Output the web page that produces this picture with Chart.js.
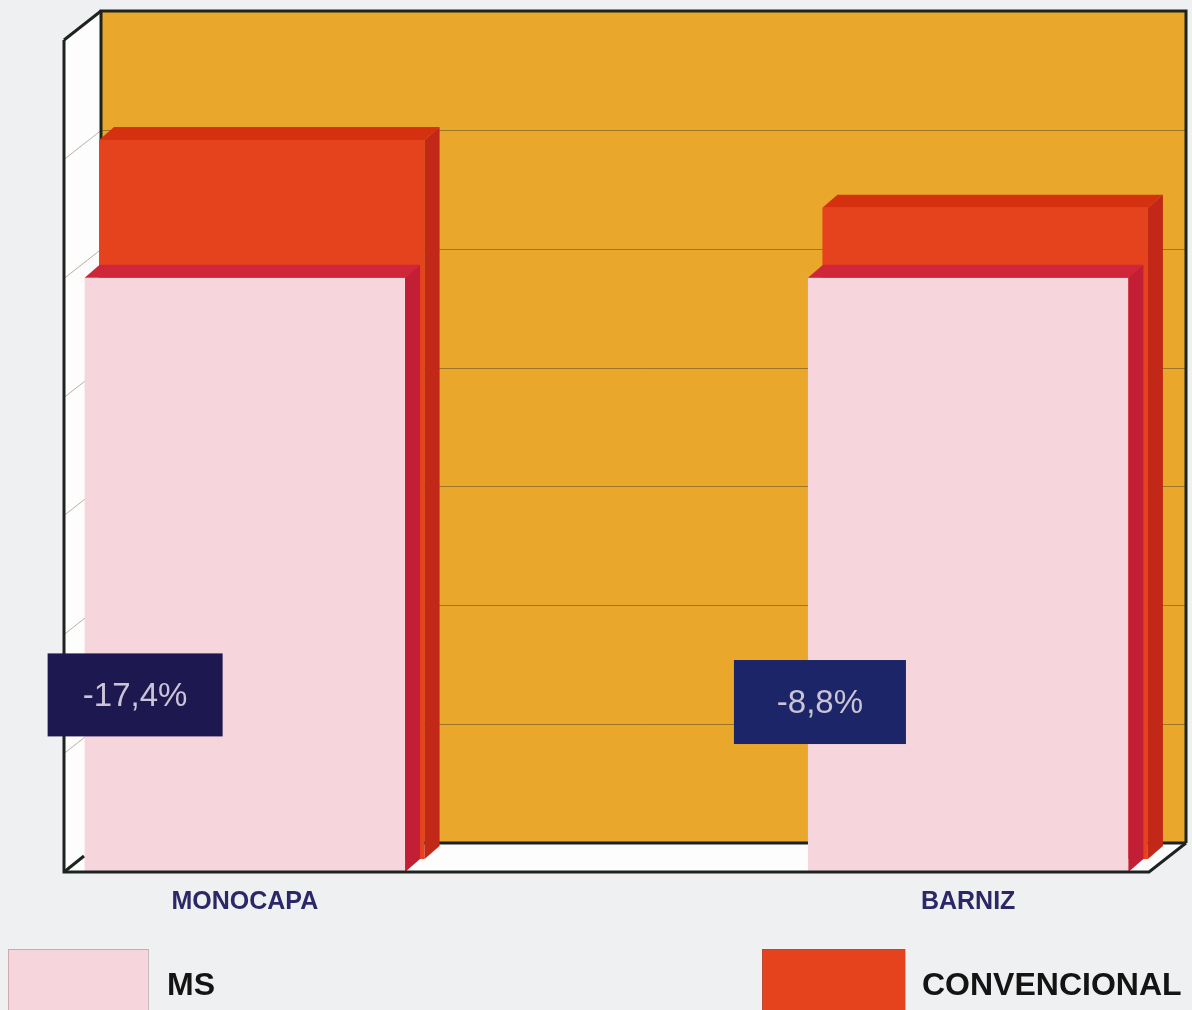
<!DOCTYPE html>
<html lang="es">
<head>
<meta charset="utf-8">
<title>MS vs Convencional</title>
<script src="https://cdn.jsdelivr.net/npm/chart.js@4.4.1/dist/chart.umd.min.js"></script>
<style>
  html, body { margin: 0; padding: 0; background: #eff0f1; }
  #wrap { position: relative; width: 1192px; height: 1010px; }
</style>
</head>
<body>
<div id="wrap"><canvas id="chart"></canvas></div>
<script>
// ─── DATOS ────────────────────────────────────────────────
const categories = ['MONOCAPA', 'BARNIZ']
const seriesNames = ['MS', 'CONVENCIONAL']
const msValues = [5.0, 5.0]
const convValues = [6.05, 5.48]
const diffLabels = ['-17,4%', '-8,8%']

// ─── ESTILO ───────────────────────────────────────────────
const COLORS = {
    ms: '#f6d5dd', msTop: '#d0263a', msSide: '#c21f36',
    conv: '#e5431d', convTop: '#d5300f', convSide: '#c22818',
    wall: '#e9a82b', side: '#fdfdfd', line: '#1d2420',
    grid: 'rgba(105,85,35,0.6)', sideGrid: '#bfae9e',
    boxes: ['#1e1850', '#1b2567'], boxText: '#cbc3d6',
    axisText: '#2c2868'
}
const DEPTH = { dx: 37, dy: -29 }        // profundidad de la caja
const BAR_DEPTH = { dx: 15, dy: -13 }    // profundidad de cada barra
const CONV_SHIFT = { dx: 17, dy: -13 }   // la serie convencional va detrás
const BOX_POS = [{ dx: -37, v: 1.49, w: 175, h: 83 }, { dx: -74, v: 1.43, w: 172, h: 84 }]

// la categoría vacía del medio separa los dos grupos
const labels = [categories[0], '', categories[1]]
const spread = arr => [arr[0], null, arr[1]]

// ─── HELPERS ──────────────────────────────────────────────
function poly(ctx, pts, fill) {
    ctx.beginPath()
    pts.forEach(([x, y], i) => i ? ctx.lineTo(x, y) : ctx.moveTo(x, y))
    ctx.closePath()
    ctx.fillStyle = fill
    ctx.fill()
}

function seg(ctx, pts, color, w) {
    ctx.beginPath()
    pts.forEach(([x, y], i) => i ? ctx.lineTo(x, y) : ctx.moveTo(x, y))
    ctx.strokeStyle = color
    ctx.lineWidth = w
    ctx.lineJoin = 'miter'
    ctx.stroke()
}

// ─── CAJA 3D ──────────────────────────────────────────────
const box3d = {
    id: 'box3d',
    beforeDatasetsDraw(chart) {
        const { ctx, chartArea: a, scales: { y } } = chart
        const { dx, dy } = DEPTH
        ctx.save()
        poly(ctx, [[a.left, a.top], [a.left + dx, a.top + dy], [a.left + dx, a.bottom + dy], [a.left, a.bottom]], COLORS.side)
        poly(ctx, [[a.left, a.bottom], [a.right, a.bottom], [a.right + dx, a.bottom + dy], [a.left + dx, a.bottom + dy]], COLORS.side)
        ctx.fillStyle = COLORS.wall
        ctx.fillRect(a.left + dx, a.top + dy, a.width, a.height)

        y.ticks.forEach(t => {
            if (t.value <= y.min || t.value >= y.max) return
            const py = Math.round(y.getPixelForValue(t.value)) + 0.5
            seg(ctx, [[a.left + dx, py + dy], [a.right + dx, py + dy]], COLORS.grid, 1)
            seg(ctx, [[a.left, py], [a.left + dx, py + dy]], COLORS.sideGrid, 1)
        })

        // bordes del fondo
        seg(ctx, [[a.left + dx, a.bottom + dy], [a.left + dx, a.top + dy], [a.right + dx, a.top + dy], [a.right + dx, a.bottom + dy]], COLORS.line, 3)
        seg(ctx, [[a.left + dx, a.bottom + dy], [a.right + dx, a.bottom + dy]], COLORS.line, 3)
        seg(ctx, [[a.left, a.top], [a.left + dx, a.top + dy]], COLORS.line, 3)
        ctx.restore()
    },
    afterDatasetsDraw(chart) {
        const { ctx, chartArea: a } = chart
        const { dx, dy } = DEPTH
        ctx.save()
        seg(ctx, [[a.left, a.top], [a.left, a.bottom], [a.right, a.bottom], [a.right + dx, a.bottom + dy]], COLORS.line, 3)
        seg(ctx, [[a.left, a.bottom], [a.left + 20, a.bottom - 16]], COLORS.line, 3)
        ctx.restore()
    }
}

// ─── BARRAS 3D ────────────────────────────────────────────
const bars3d = {
    id: 'bars3d',
    beforeDatasetDraw(chart, args) {
        if (args.index !== 1) return
        chart.ctx.save()
        chart.ctx.translate(CONV_SHIFT.dx, CONV_SHIFT.dy)
    },
    afterDatasetDraw(chart, args) {
        const ctx = chart.ctx
        const topColor = args.index === 0 ? COLORS.msTop : COLORS.convTop
        const sideColor = args.index === 0 ? COLORS.msSide : COLORS.convSide
        const values = chart.data.datasets[args.index].data
        const { dx, dy } = BAR_DEPTH
        args.meta.data.forEach((bar, i) => {
            if (values[i] == null) return
            const { x, y, base, width } = bar.getProps(['x', 'y', 'base', 'width'], true)
            const l = x - width / 2, r = x + width / 2
            poly(ctx, [[l, y], [l + dx, y + dy], [r + dx, y + dy], [r, y]], topColor)
            poly(ctx, [[r, y], [r + dx, y + dy], [r + dx, base + dy], [r, base]], sideColor)
        })
        if (args.index === 1) ctx.restore()
    }
}

// ─── ETIQUETAS Y LEYENDA ──────────────────────────────────
const extras = {
    id: 'extras',
    afterDraw(chart) {
        const { ctx, scales: { y } } = chart
        const meta = chart.getDatasetMeta(0)
        const bars = meta.data.filter((b, i) => chart.data.datasets[0].data[i] != null)
        ctx.save()
        bars.forEach((bar, k) => {
            const p = BOX_POS[k]
            const left = bar.x - bar.width / 2 + p.dx
            const cy = y.getPixelForValue(p.v)
            ctx.fillStyle = COLORS.boxes[k]
            ctx.fillRect(left, cy - p.h / 2, p.w, p.h)
            ctx.fillStyle = COLORS.boxText
            ctx.font = '33px "Liberation Sans", Arial, sans-serif'
            ctx.textAlign = 'center'
            ctx.textBaseline = 'middle'
            ctx.fillText(diffLabels[k], left + p.w / 2, cy + 2)
        })

        const legendPos = [{ x: 8, w: 140, tx: 167 }, { x: 762, w: 143, tx: 922 }]
        chart.data.datasets.forEach((d, i) => {
            const p = legendPos[i]
            ctx.fillStyle = d.backgroundColor
            ctx.fillRect(p.x, 949, p.w, 70)
            ctx.strokeStyle = 'rgba(120,90,90,0.35)'
            ctx.lineWidth = 1
            ctx.strokeRect(p.x + 0.5, 949.5, p.w, 70)
            ctx.fillStyle = '#141414'
            ctx.font = 'bold 32px "Liberation Sans", Arial, sans-serif'
            ctx.textAlign = 'left'
            ctx.textBaseline = 'alphabetic'
            ctx.fillText(d.label, p.tx, 995)
        })
        ctx.restore()
    }
}

// ─── CHART ────────────────────────────────────────────────
new Chart(document.getElementById('chart'), {
    type: 'bar',
    data: {
        labels,
        datasets: [
            {
                label: seriesNames[0], data: spread(msValues),
                backgroundColor: COLORS.ms, barPercentage: 0.886, clip: false
            },
            {
                label: seriesNames[1], data: spread(convValues),
                backgroundColor: COLORS.conv, barPercentage: 0.9, clip: false
            }
        ]
    },
    options: {
        responsive: true,
        maintainAspectRatio: false,
        animation: false,
        events: [],
        layout: { padding: { left: 64, right: 43, top: 40, bottom: 0 } },
        datasets: { bar: { grouped: false, categoryPercentage: 1, borderWidth: 0 } },
        scales: {
            x: {
                grid: { display: false, drawTicks: false },
                border: { display: false },
                ticks: {
                    color: COLORS.axisText, padding: 15,
                    font: { family: '"Liberation Sans", Arial, sans-serif', size: 25, weight: 'bold' }
                },
                afterFit(scale) { scale.height = 138 }
            },
            y: {
                display: false, min: 0, max: 7,
                ticks: { stepSize: 1 }
            }
        },
        plugins: { legend: { display: false }, tooltip: { enabled: false } }
    },
    plugins: [box3d, bars3d, extras]
})
</script>
</body>
</html>
